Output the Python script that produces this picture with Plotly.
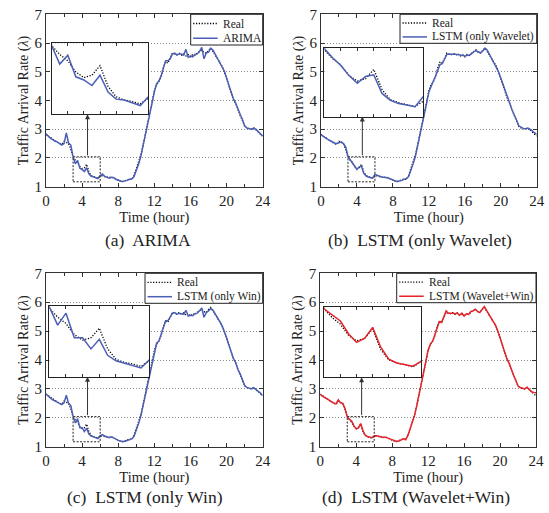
import plotly.graph_objects as go

hours = [i * 0.25 for i in range(97)]

real = [2.82, 2.76, 2.70, 2.66, 2.60, 2.55, 2.50, 2.47, 2.58, 2.53, 2.50, 2.30,
        2.03, 1.92, 1.84, 1.70, 1.63, 1.66, 1.78, 1.52, 1.39, 1.35, 1.33, 1.30,
        1.37, 1.38, 1.35, 1.33, 1.32, 1.34, 1.30, 1.26, 1.22, 1.19, 1.18, 1.20,
        1.24, 1.27, 1.25, 1.40, 1.62, 1.85, 2.10, 2.45, 2.80, 3.15, 3.55, 3.95,
        4.35, 4.55, 4.65, 4.85, 5.15, 5.35, 5.30, 5.50, 5.65, 5.62, 5.60, 5.64,
        5.58, 5.63, 5.55, 5.60, 5.52, 5.60, 5.57, 5.65, 5.70, 5.76, 5.67, 5.65,
        5.75, 5.82, 5.70, 5.57, 5.45, 5.30, 5.20, 5.00, 4.75, 4.55, 4.25, 4.05,
        3.90, 3.65, 3.48, 3.30, 3.10, 3.05, 3.02, 3.00, 3.05, 2.98, 2.92, 2.85,
        2.76]

arima = [2.84, 2.74, 2.68, 2.64, 2.58, 2.56, 2.50, 2.45, 2.50, 2.87, 2.52, 2.45,
         2.03, 1.80, 1.91, 1.64, 1.60, 1.53, 1.66, 1.45, 1.36, 1.35, 1.31, 1.28,
         1.39, 1.44, 1.36, 1.33, 1.30, 1.33, 1.31, 1.26, 1.22, 1.20, 1.18, 1.19,
         1.22, 1.26, 1.27, 1.35, 1.55, 1.78, 2.05, 2.40, 2.75, 3.10, 3.50, 3.92,
         4.30, 4.58, 4.68, 4.85, 5.12, 5.38, 5.38, 5.45, 5.62, 5.65, 5.58, 5.62,
         5.62, 5.58, 5.78, 5.50, 5.55, 5.52, 5.60, 5.62, 5.70, 5.85, 5.45, 5.65,
         5.68, 5.82, 5.75, 5.60, 5.45, 5.35, 5.18, 5.02, 4.78, 4.52, 4.30, 4.05,
         3.92, 3.68, 3.52, 3.35, 3.12, 3.04, 3.02, 3.00, 3.03, 3.00, 2.92, 2.85,
         2.76]

lstm_wavelet = [2.80, 2.76, 2.70, 2.65, 2.60, 2.55, 2.52, 2.50, 2.54, 2.56, 2.50, 2.38,
                2.05, 1.93, 1.83, 1.70, 1.60, 1.69, 1.71, 1.47, 1.38, 1.34, 1.32, 1.30,
                1.43, 1.40, 1.36, 1.34, 1.33, 1.32, 1.30, 1.27, 1.23, 1.20, 1.18, 1.19,
                1.22, 1.26, 1.28, 1.35, 1.55, 1.80, 2.05, 2.40, 2.75, 3.10, 3.48, 3.90,
                4.30, 4.52, 4.68, 4.85, 5.08, 5.25, 5.28, 5.45, 5.60, 5.62, 5.60, 5.62,
                5.60, 5.60, 5.58, 5.57, 5.55, 5.57, 5.58, 5.62, 5.70, 5.73, 5.68, 5.66,
                5.72, 5.82, 5.75, 5.60, 5.48, 5.32, 5.18, 5.00, 4.78, 4.55, 4.28, 4.08,
                3.90, 3.68, 3.52, 3.32, 3.12, 3.06, 3.03, 3.02, 3.04, 3.00, 2.93, 2.87,
                2.82]

lstm_win = [2.82, 2.73, 2.68, 2.62, 2.57, 2.54, 2.50, 2.46, 2.52, 2.78, 2.50, 2.42,
            2.05, 1.82, 1.97, 1.66, 1.66, 1.52, 1.64, 1.44, 1.37, 1.34, 1.31, 1.28,
            1.38, 1.42, 1.37, 1.33, 1.31, 1.34, 1.31, 1.26, 1.22, 1.20, 1.17, 1.19,
            1.22, 1.26, 1.27, 1.36, 1.56, 1.80, 2.06, 2.42, 2.78, 3.12, 3.52, 3.92,
            4.32, 4.58, 4.66, 4.86, 5.12, 5.36, 5.36, 5.48, 5.62, 5.64, 5.58, 5.62,
            5.60, 5.58, 5.72, 5.52, 5.55, 5.53, 5.60, 5.62, 5.70, 5.80, 5.48, 5.64,
            5.70, 5.78, 5.72, 5.60, 5.45, 5.33, 5.18, 5.00, 4.78, 4.52, 4.28, 4.06,
            3.92, 3.67, 3.52, 3.33, 3.12, 3.05, 3.02, 3.00, 3.04, 2.99, 2.92, 2.86,
            2.76]

lstm_wavelet_win = [2.80, 2.75, 2.71, 2.65, 2.58, 2.54, 2.51, 2.48, 2.62, 2.52, 2.50, 2.32,
                    2.03, 1.95, 1.88, 1.72, 1.61, 1.66, 1.80, 1.55, 1.40, 1.35, 1.33, 1.31,
                    1.37, 1.38, 1.36, 1.33, 1.32, 1.33, 1.30, 1.26, 1.22, 1.20, 1.18, 1.20,
                    1.24, 1.27, 1.24, 1.40, 1.62, 1.85, 2.10, 2.45, 2.80, 3.15, 3.55, 3.95,
                    4.35, 4.55, 4.65, 4.87, 5.15, 5.33, 5.30, 5.52, 5.70, 5.62, 5.63, 5.62,
                    5.60, 5.62, 5.55, 5.62, 5.52, 5.60, 5.58, 5.68, 5.70, 5.76, 5.68, 5.64,
                    5.75, 5.85, 5.72, 5.58, 5.45, 5.30, 5.20, 5.00, 4.75, 4.55, 4.25, 4.05,
                    3.90, 3.65, 3.48, 3.30, 3.10, 3.05, 3.03, 3.00, 3.06, 2.98, 2.90, 2.88,
                    2.87]

model_names = ["ARIMA", "LSTM (only Wavelet)", "LSTM (only Win)", "LSTM (Wavelet+Win)"]
captions = ["(a)  ARIMA", "(b)  LSTM (only Wavelet)", "(c)  LSTM (only Win)", "(d)  LSTM (Wavelet+Win)"]
predictions = [arima, lstm_wavelet, lstm_win, lstm_wavelet_win]
colors = ["#4c5fb6", "#4c5fb6", "#4c5fb6", "#e8232a"]

FONT = "Liberation Serif, Times New Roman, serif"
W, H = 549, 513
DOT = "1.2px,1.6px"

def px(a, b):
    return [a / W, b / W]

def py(top, bottom):
    return [1 - bottom / H, 1 - top / H]

main_dom = [
    (px(46, 262.7), py(14.3, 186.7)),
    (px(321, 536.7), py(14.3, 186.7)),
    (px(46, 262.7), py(273.3, 446.7)),
    (px(320.3, 536), py(273.3, 446.7)),
]
inset_dom = [
    (px(51.7, 148.3), py(43.3, 114.3)),
    (px(324.3, 423.3), py(47.7, 116.7)),
    (px(49.3, 149.3), py(306, 376.7)),
    (px(324.3, 421), py(306.7, 377.3)),
]
inset_bottom = [3.52, 3.44, 3.42, 3.40]
# legend box: left, right, top, bottom (pixels); row centres
legend_box = [(190.7, 262.7, 14.3, 45.0), (400, 536.7, 14.3, 43.3),
              (145, 262.7, 273.3, 303.3), (396.7, 536, 273.3, 302.7)]
caption_pos = [(148, 240), (420, 240), (145, 497), (416, 497)]

fig = go.Figure()
layout = dict(
    width=W, height=H, margin=dict(l=0, r=0, t=0, b=0, autoexpand=False),
    paper_bgcolor="white", plot_bgcolor="white",
    font=dict(family=FONT, color="#222"),
    showlegend=False, annotations=[], shapes=[],
)

for i in range(4):
    m = i + 1
    n = i + 5
    mx = "x" if m == 1 else f"x{m}"
    my = "y" if m == 1 else f"y{m}"
    ix, iy = f"x{n}", f"y{n}"

    fig.add_trace(go.Scatter(x=hours, y=real, mode="lines", name="Real",
                             line=dict(color="black", width=1.3, dash=DOT),
                             xaxis=mx, yaxis=my))
    fig.add_trace(go.Scatter(x=hours, y=predictions[i], mode="lines", name=model_names[i],
                             line=dict(color=colors[i], width=1.5),
                             xaxis=mx, yaxis=my))
    fig.add_trace(go.Scatter(x=hours, y=real, mode="lines", name="Real",
                             line=dict(color="black", width=1.3, dash=DOT),
                             xaxis=ix, yaxis=iy))
    fig.add_trace(go.Scatter(x=hours, y=predictions[i], mode="lines", name=model_names[i],
                             line=dict(color=colors[i], width=1.5),
                             xaxis=ix, yaxis=iy))

    xd, yd = main_dom[i]
    layout["xaxis" if m == 1 else f"xaxis{m}"] = dict(
        domain=xd, anchor=my, range=[0, 24], tickvals=[0, 4, 8, 12, 16, 20, 24],
        ticks="inside", ticklen=4, tickcolor="#333", mirror="ticks", automargin=False,
        minor=dict(tickvals=[2, 6, 10, 14, 18, 22], ticks="inside", ticklen=3, tickcolor="#333"),
        showline=True, linecolor="#333", linewidth=1, showgrid=False, zeroline=False,
        tickfont=dict(size=15, family=FONT, color="#222"),
        title=dict(text="Time (hour)", font=dict(size=14.5, family=FONT, color="#222"), standoff=0),
    )
    layout["yaxis" if m == 1 else f"yaxis{m}"] = dict(
        domain=yd, anchor=mx, range=[1, 7], dtick=1,
        ticks="inside", ticklen=4, tickcolor="#333", mirror="ticks", automargin=False,
        showline=True, linecolor="#333", linewidth=1,
        showgrid=True, gridcolor="#888", griddash="1px,2px", gridwidth=1, zeroline=False,
        tickfont=dict(size=15, family=FONT, color="#222"),
        title=dict(text="Traffic Arrival Rate (<i>λ</i>)", font=dict(size=14, family=FONT, color="#222"), standoff=2),
    )
    ixd, iyd = inset_dom[i]
    layout[f"xaxis{n}"] = dict(
        domain=ixd, anchor=iy, range=[3, 6], dtick=0.5, showticklabels=False,
        ticks="inside", ticklen=3, tickcolor="#333", mirror="ticks", automargin=False,
        showline=True, linecolor="#222", linewidth=1.3, showgrid=False, zeroline=False,
    )
    layout[f"yaxis{n}"] = dict(
        domain=iyd, anchor=ix, range=[1.17, 2.06], dtick=0.2, showticklabels=False,
        ticks="", mirror=True, automargin=False,
        showline=True, linecolor="#222", linewidth=1.3, showgrid=False, zeroline=False,
    )

    # zoom box + arrow
    layout["shapes"].append(dict(
        type="rect", xref=mx, yref=my, x0=3, x1=6, y0=1.17, y1=2.04,
        line=dict(color="#222", width=1, dash="2px,1.5px"), fillcolor="rgba(0,0,0,0)",
    ))
    layout["annotations"].append(dict(
        xref=mx, yref=my, axref=mx, ayref=my, x=4.6, y=inset_bottom[i], ax=4.6, ay=2.04,
        showarrow=True, arrowhead=2, arrowsize=1, arrowwidth=1, arrowcolor="#333", text="",
        standoff=0, startstandoff=0,
    ))

    # legend box
    L, R, T, B = legend_box[i]
    layout["shapes"].append(dict(
        type="rect", xref="paper", yref="paper", x0=L / W, x1=R / W, y0=1 - B / H, y1=1 - T / H,
        line=dict(color="#222", width=1), fillcolor="white", layer="above",
    ))
    rows = [T + 0.3 * (B - T), T + 0.78 * (B - T)]
    labels = ["Real", model_names[i]]
    styles = [dict(color="black", width=1.3, dash=DOT), dict(color=colors[i], width=1.5)]
    for r, lab, st in zip(rows, labels, styles):
        layout["shapes"].append(dict(
            type="line", xref="paper", yref="paper", x0=(L + 2.5) / W, x1=(L + 27) / W,
            y0=1 - r / H, y1=1 - r / H, line=st, layer="above",
        ))
        layout["annotations"].append(dict(
            xref="paper", yref="paper", x=(L + 30) / W, y=1 - r / H, xanchor="left", yanchor="middle",
            text=lab, showarrow=False, font=dict(size=11.5, family=FONT, color="#222"),
        ))

    cx, cy = caption_pos[i]
    layout["annotations"].append(dict(
        xref="paper", yref="paper", x=cx / W, y=1 - cy / H, xanchor="center", yanchor="middle",
        text=captions[i], showarrow=False, font=dict(size=17.5, family=FONT, color="#222"),
    ))

fig.update_layout(**layout)
fig.write_html("out.html", config={"displayModeBar": False},
               post_script="document.body.style.margin='0';document.body.style.overflow='hidden';")
